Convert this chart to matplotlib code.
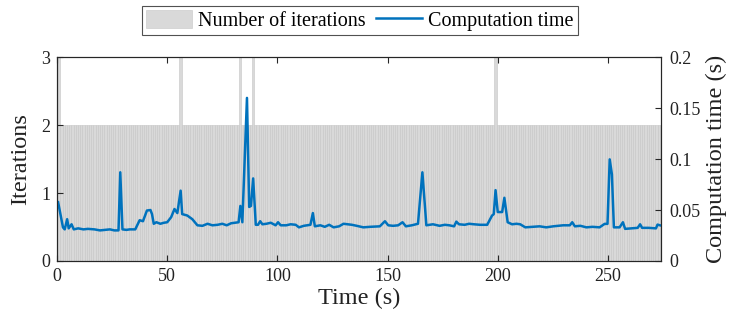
import numpy as np
import matplotlib
matplotlib.use("Agg")
import matplotlib.pyplot as plt

# --------- DATA ----------
# iterations per time step (1 s steps); 3 iterations at a few instants
N_STEPS = 274
BASE_ITER = 2
EXTRA_ITER_TIMES = [1, 56, 83, 89, 199]

# computation time line (t, seconds)
ct_t = [0.5, 2.7, 3.5, 4.6, 5.3, 6.6, 7.6, 9.6, 12.0, 14.0, 17.0, 19.5, 22.0, 24.0, 26.0, 27.9, 28.7, 29.7,
        31.5, 33.0, 35.5, 37.5, 39.0, 40.8, 42.4, 43.1, 43.9, 45.1, 46.9, 48.5, 50.0, 51.8,
        53.3, 54.6, 56.1, 56.8, 59.1, 61.4, 63.7, 66.0, 68.3, 70.5, 72.9, 75.0, 77.0, 79.0, 82.4, 83.2,
        84.1, 86.2, 87.2, 88.0, 89.0, 90.2, 91.2, 92.2, 93.2, 95.0, 97.0, 99.2, 100.3,
        101.5, 104.0, 106.0, 108.3, 109.8, 112.0, 115.0, 116.1, 117.0, 119.5, 121.5, 123.5, 125.5,
        128.0, 130.0, 133.8, 136.0, 139.0, 142.0, 146.5, 148.8, 150.3, 152.5, 154.8, 156.8, 158.3,
        161.0, 163.8, 165.8, 167.6, 170.6, 173.6, 176.0, 178.0, 180.2, 181.2, 182.4, 185.0, 187.0,
        189.2, 192.0, 195.2, 197.4, 198.2, 199.0, 200.0, 202.0, 203.0, 204.5, 206.5, 208.5, 210.2,
        212.5, 216.0, 219.0, 222.0, 225.2, 227.5, 229.7, 232.7, 233.8, 235.0, 237.5, 240.2, 243.0,
        246.2, 248.5, 249.8, 250.8, 251.8, 252.7, 255.3, 256.8, 257.8, 260.5, 263.5, 264.6, 265.5,
        268.5, 271.8, 272.5, 273.6]
ct_v = [0.0577, 0.033, 0.031, 0.041, 0.032, 0.036, 0.031, 0.032, 0.031, 0.0315, 0.031, 0.030, 0.0305, 0.031, 0.030, 0.030, 0.087, 0.031,
        0.0305, 0.031, 0.031, 0.040, 0.039, 0.0495, 0.050, 0.046, 0.0365, 0.038, 0.0365, 0.0375, 0.038, 0.043,
        0.051, 0.047, 0.069, 0.046, 0.0446, 0.041, 0.035, 0.0345, 0.0365, 0.035, 0.0355, 0.0365, 0.035, 0.037, 0.038, 0.054,
        0.038, 0.160, 0.053, 0.054, 0.081, 0.0355, 0.0355, 0.039, 0.036, 0.0365, 0.0375, 0.035, 0.038,
        0.035, 0.035, 0.036, 0.0355, 0.033, 0.0345, 0.0355, 0.047, 0.034, 0.035, 0.0335, 0.0355, 0.033,
        0.034, 0.0365, 0.0355, 0.0345, 0.033, 0.0335, 0.034, 0.039, 0.035, 0.0345, 0.035, 0.038, 0.034,
        0.035, 0.0365, 0.087, 0.035, 0.036, 0.0345, 0.0355, 0.035, 0.034, 0.0386, 0.036, 0.0355, 0.0365,
        0.036, 0.0355, 0.0355, 0.0445, 0.046, 0.0695, 0.048, 0.048, 0.062, 0.038, 0.036, 0.0365, 0.036,
        0.033, 0.0335, 0.034, 0.033, 0.034, 0.0345, 0.035, 0.035, 0.038, 0.034, 0.0345, 0.033, 0.0335,
        0.033, 0.0364, 0.0364, 0.0997, 0.085, 0.033, 0.033, 0.038, 0.0315, 0.032, 0.0325, 0.036, 0.0325,
        0.0325, 0.032, 0.0357, 0.035]
# ---------------------------

iter_t = np.arange(1, N_STEPS + 1)
iters = np.full(N_STEPS, BASE_ITER)
for t in EXTRA_ITER_TIMES:
    iters[t - 1] = 3

plt.rcParams['font.family'] = ['Liberation Serif', 'DejaVu Serif']
AX_COL = '#262626'
TXT_COL = '#222222'

fig = plt.figure(figsize=(7.31, 3.21), dpi=100)
ax = fig.add_axes([0.078, 0.187, 0.826, 0.635])
ax2 = ax.twinx()

bars = ax.bar(iter_t, iters, width=1.0, color='#d9d9d9', edgecolor='#c6c6c6',
              linewidth=0.4, label='Number of iterations', zorder=1)
line, = ax2.plot(ct_t, ct_v, color='#0072bd', lw=1.8, label='Computation time')

ax.set_xlim(0, 274)
ax.set_ylim(0, 3)
ax2.set_ylim(0, 0.2)
ax.set_xticks([0, 50, 100, 150, 200, 250])
ax.set_yticks([0, 1, 2, 3])
ax2.set_yticks([0, 0.05, 0.1, 0.15, 0.2])
ax2.set_yticklabels(['0', '0.05', '0.1', '0.15', '0.2'])

for a in (ax, ax2):
    a.tick_params(direction='in', length=4, width=0.8, colors=AX_COL, labelsize=13,
                  labelcolor=TXT_COL)
    for s in a.spines.values():
        s.set_color(AX_COL)
        s.set_linewidth(0.8)
ax.tick_params(top=True, pad=5)
ax2.tick_params(pad=6)

ax.set_xlabel('Time (s)', fontsize=17.5, color=TXT_COL, labelpad=2)
ax.set_ylabel('Iterations', fontsize=17.5, color=TXT_COL, labelpad=7)
ax2.set_ylabel('Computation time (s)', fontsize=17.5, color=TXT_COL, labelpad=4)

leg = fig.legend([bars, line], ['Number of iterations', 'Computation time'],
                 loc='upper center', bbox_to_anchor=(0.4925, 0.995), ncol=2, fontsize=14.5,
                 frameon=True, fancybox=False, handlelength=2.3, handleheight=1.0,
                 handletextpad=0.3, columnspacing=0.5, borderpad=0.2, borderaxespad=0.2)
leg.get_frame().set_edgecolor(AX_COL)
leg.get_frame().set_linewidth(0.8)

fig.savefig('out.png', dpi=100)
